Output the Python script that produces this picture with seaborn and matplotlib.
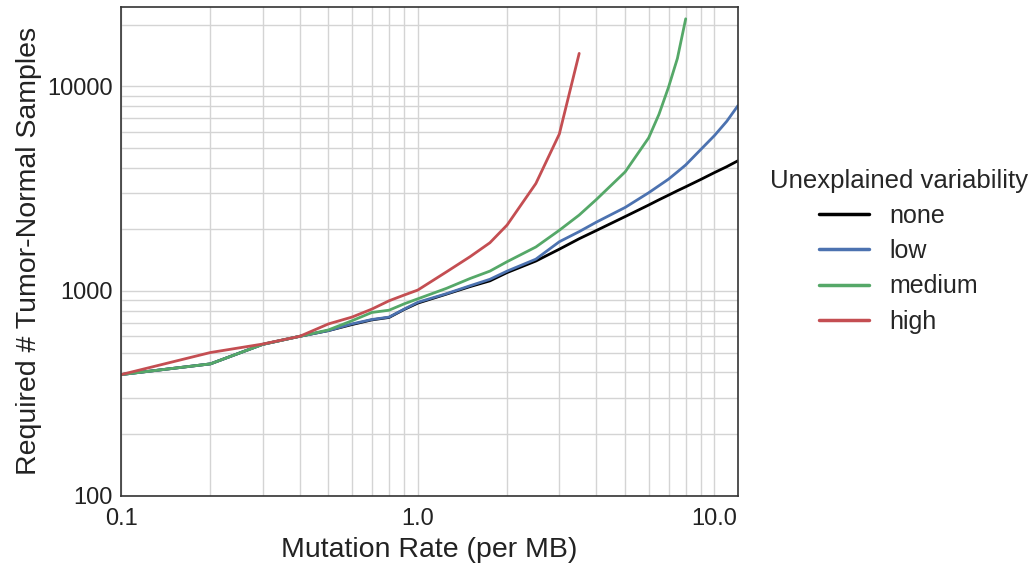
import pandas as pd
import seaborn as sns
import matplotlib.pyplot as plt
from matplotlib.ticker import FixedLocator, FixedFormatter, LogLocator, NullFormatter

# Mutation rates sampled (per MB)
rate = [0.1, 0.2, 0.3, 0.4, 0.5, 0.6, 0.7, 0.8, 0.9, 1.0, 1.25, 1.5, 1.75, 2.0,
        2.5, 3.0, 3.5, 4.0, 5.0, 6.0, 6.5, 7.0, 7.5, 8.0, 9.0, 10.0, 11.0, 12.0]

# Required tumor-normal samples per variability level
none_vals = [390, 440, 548, 600, 640, 685, 722, 742, 812, 872, 965, 1050, 1120, 1230,
             1400, 1600, 1800, 1975, 2310, 2630, 2790, 2940, 3090, 3230, 3510, 3790, 4050, 4330]
low_vals = [390, 440, 548, 600, 640, 690, 725, 745, 815, 880, 970, 1060, 1140, 1250,
            1430, 1740, 1950, 2170, 2560, 3020, 3270, 3520, 3820, 4130, 4920, 5750, 6750, 8050]
medium_vals = [390, 440, 548, 600, 645, 715, 785, 805, 865, 915, 1030, 1150, 1250, 1390,
               1640, 1980, 2350, 2800, 3820, 5600, 7300, 9900, 13700, 21400]
high_vals = [390, 500, 550, 600, 690, 745, 815, 895, 955, 1010, 1240, 1470, 1720, 2100,
             3350, 5850, 14500]

levels = ["none", "low", "medium", "high"]
colors = {"none": "black", "low": "#4C72B0", "medium": "#55A868", "high": "#C44E52"}

frames = []
for name, vals in zip(levels, [none_vals, low_vals, medium_vals, high_vals]):
    frames.append(pd.DataFrame({"rate": rate[:len(vals)], "samples": vals, "var": name}))
df = pd.concat(frames, ignore_index=True)

sns.set_style("whitegrid")
plt.rcParams["font.family"] = ["Liberation Sans", "DejaVu Sans"]

fig, ax = plt.subplots(figsize=(10.35, 5.65), dpi=100)
fig.subplots_adjust(left=0.117, right=0.713, bottom=0.123, top=0.988)

sns.lineplot(data=df, x="rate", y="samples", hue="var", hue_order=levels,
             palette=colors, linewidth=2, ax=ax, sort=False)

ax.set_xscale("log")
ax.set_yscale("log")
ax.set_xlim(0.1, 12)
ax.set_ylim(100, 24500)

ax.xaxis.set_major_locator(FixedLocator([0.1, 1.0, 10.0]))
ax.xaxis.set_major_formatter(FixedFormatter(["0.1", "1.0", "10.0"]))
ax.yaxis.set_major_locator(FixedLocator([100, 1000, 10000]))
ax.yaxis.set_major_formatter(FixedFormatter(["100", "1000", "10000"]))
ax.xaxis.set_minor_locator(LogLocator(base=10, subs=range(2, 10)))
ax.yaxis.set_minor_locator(LogLocator(base=10, subs=range(2, 10)))
ax.xaxis.set_minor_formatter(NullFormatter())
ax.yaxis.set_minor_formatter(NullFormatter())

ax.grid(True, which="both", color="#d4d4d4", linewidth=1)
ax.tick_params(which="both", length=0, labelsize=17, colors="#222222")
ax.tick_params(axis="x", pad=9)
ax.tick_params(axis="y", pad=6)
for s in ax.spines.values():
    s.set_color("#333333")
    s.set_linewidth(1.2)

ax.set_xlabel("Mutation Rate (per MB)", fontsize=20.5, color="#222222", labelpad=5)
ax.set_ylabel("Required # Tumor-Normal Samples", fontsize=20.5, color="#222222", labelpad=4)

leg = ax.legend(title="Unexplained variability", loc="center left",
                bbox_to_anchor=(1.015, 0.5), fontsize=18, title_fontsize=18.5,
                frameon=False, labelspacing=0.45)
for line in leg.get_lines():
    line.set_linewidth(2.5)

plt.savefig("out.png", dpi=100)
plt.close()
